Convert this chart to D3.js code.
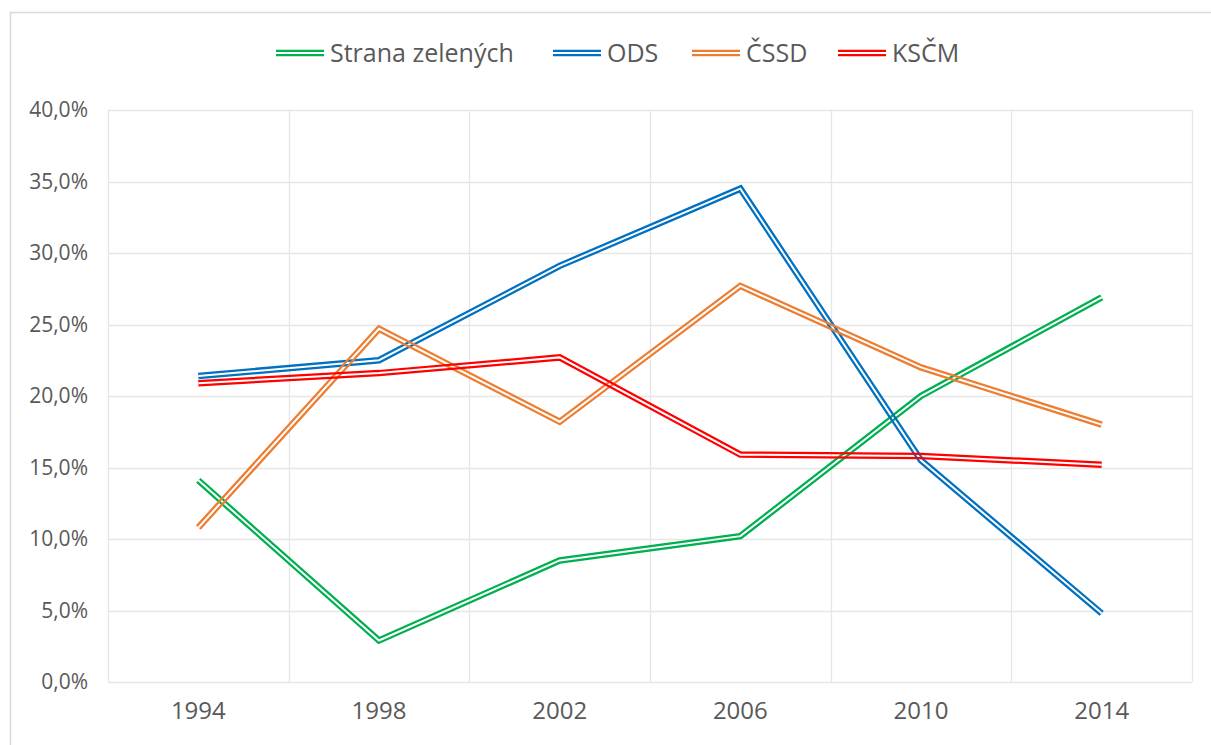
<!DOCTYPE html>
<meta charset="utf-8">
<script src="https://d3js.org/d3.v7.min.js"></script>
<style>
  body { margin: 0; background: #fff; }
  text { font-family: "Open Sans", sans-serif; fill: #595959; }
</style>
<div id="chart"></div>
<script>

// data
var years = ["1994", "1998", "2002", "2006", "2010", "2014"];
var zeleni = [14.1, 2.9, 8.5, 10.2, 20.0, 26.9];
var ods    = [21.4, 22.5, 29.1, 34.5, 15.5, 4.8];
var cssd   = [10.8, 24.7, 18.2, 27.7, 22.0, 18.0];
var kscm   = [20.9, 21.6, 22.7, 15.9, 15.8, 15.2];
var yTicks = [0, 5, 10, 15, 20, 25, 30, 35, 40];

var series = [
  {name: "Strana zelených", values: zeleni, color: "#00B050"},
  {name: "ODS",             values: ods,    color: "#0070C0"},
  {name: "ČSSD",            values: cssd,   color: "#ED7D31"},
  {name: "KSČM",            values: kscm,   color: "#FF0000"}
];

var W = 1211, H = 745;
var margin = {top: 110, right: 19, bottom: 63, left: 108},
    width = W - margin.left - margin.right,
    height = H - margin.top - margin.bottom;

var root = d3.select("#chart").append("svg")
    .attr("width", W)
    .attr("height", H);

// outer chart frame (cropped at right / bottom)
root.append("rect")
    .attr("x", 10.5).attr("y", 12.5)
    .attr("width", 1300).attr("height", 900)
    .attr("fill", "none")
    .attr("stroke", "#d9d9d9")
    .attr("stroke-width", 1.5);

var defs = root.append("defs");

var svg = root.append("g")
    .attr("transform", "translate(" + margin.left + "," + margin.top + ")");

var x = d3.scaleBand()
    .domain(years)
    .range([0, width]);

var y = d3.scaleLinear()
    .domain([0, 40])
    .range([height, 0]);

// horizontal gridlines
svg.append("g")
  .selectAll("line")
  .data(yTicks)
  .join("line")
    .attr("x1", 0).attr("x2", width)
    .attr("y1", function(d) { return Math.round(y(d)) + 0.5; })
    .attr("y2", function(d) { return Math.round(y(d)) + 0.5; })
    .attr("stroke", "#e6e6e6")
    .attr("stroke-width", 1.3);

// vertical gridlines at category boundaries
var bounds = years.map(function(d) { return x(d); }).concat([width]);
svg.append("g")
  .selectAll("line")
  .data(bounds)
  .join("line")
    .attr("x1", function(d) { return Math.round(d) + 0.5; })
    .attr("x2", function(d) { return Math.round(d) + 0.5; })
    .attr("y1", 0).attr("y2", height)
    .attr("stroke", "#e6e6e6")
    .attr("stroke-width", 1.3);

// Y axis labels
var yAxis = svg.append("g")
    .call(d3.axisLeft(y).tickValues(yTicks).tickSize(0).tickPadding(20)
      .tickFormat(function(d) { return d3.format(".1f")(d).replace(".", ",") + "%"; }));
yAxis.select(".domain").remove();
yAxis.selectAll("text")
    .style("font-size", "21px")
    .attr("fill", "#595959");

// X axis labels
var xAxis = svg.append("g")
    .attr("transform", "translate(0," + height + ")")
    .call(d3.axisBottom(x).tickSize(0).tickPadding(20));
xAxis.select(".domain").remove();
xAxis.selectAll("text")
    .style("font-size", "24px")
    .attr("fill", "#595959");

var line = d3.line()
    .x(function(d, i) { return x(years[i]) + x.bandwidth() / 2; })
    .y(function(d) { return y(d); });

// double (compound) lines: wide stroke with the middle masked out
series.forEach(function(s, k) {
  var m = defs.append("mask")
      .attr("id", "m" + k)
      .attr("maskUnits", "userSpaceOnUse")
      .attr("x", -margin.left).attr("y", -margin.top)
      .attr("width", W).attr("height", H);
  m.append("rect")
      .attr("x", -margin.left).attr("y", -margin.top)
      .attr("width", W).attr("height", H)
      .attr("fill", "white");
  m.append("path")
      .attr("d", line(s.values))
      .attr("fill", "none")
      .attr("stroke", "black")
      .attr("stroke-width", 2);

  svg.append("path")
      .attr("d", line(s.values))
      .attr("fill", "none")
      .attr("stroke", s.color)
      .attr("stroke-width", 6.5)
      .attr("mask", "url(#m" + k + ")");
});

// legend
var legendX = [276, 553, 692, 838];
var legend = root.append("g");
series.forEach(function(s, k) {
  var g = legend.append("g")
      .attr("transform", "translate(" + legendX[k] + ",53)");
  g.append("line").attr("x1", 0).attr("x2", 48).attr("y1", -2.2).attr("y2", -2.2)
      .attr("stroke", s.color).attr("stroke-width", 2.2);
  g.append("line").attr("x1", 0).attr("x2", 48).attr("y1", 2.2).attr("y2", 2.2)
      .attr("stroke", s.color).attr("stroke-width", 2.2);
  g.append("text")
      .attr("x", 54)
      .attr("dy", "0.35em")
      .style("font-size", "25px")
      .text(s.name);
});

</script>
